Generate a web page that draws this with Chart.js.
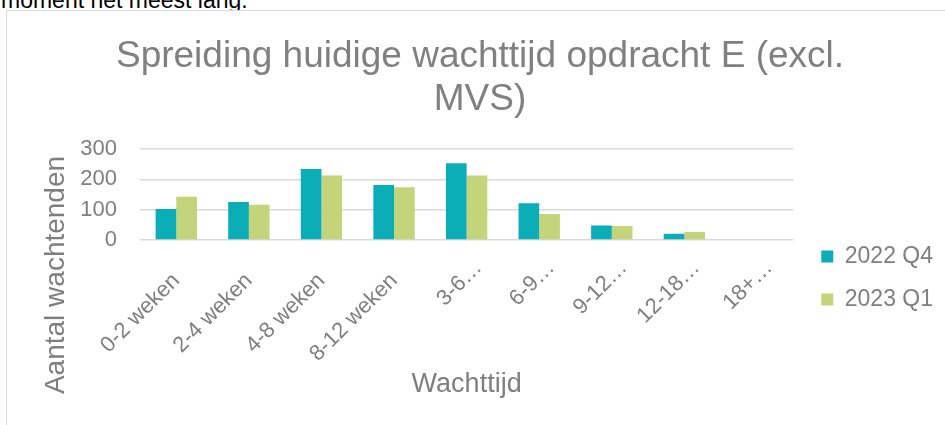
<!DOCTYPE html>
<html>
<head>
<meta charset="utf-8">
<script src="https://cdn.jsdelivr.net/npm/chart.js@4.4.1/dist/chart.umd.min.js"></script>
<style>
  html, body { margin: 0; padding: 0; background: #ffffff; overflow: hidden; }
  body { width: 945px; height: 425px; position: relative; }
  #toptext { position: absolute; left: 1px; top: -11px; font: 23px/23px "Liberation Sans", Arial, sans-serif; color: #000; white-space: nowrap; }
  #frame { position: absolute; left: 6px; top: 10px; width: 945px; height: 420px; border-top: 1px solid #d9d9d9; border-left: 1px solid #d9d9d9; box-sizing: border-box; background: #fff; }
  #c { position: absolute; left: 7px; top: 11px; }
</style>
</head>
<body>
<div id="toptext">moment het meest lang.</div>
<div id="frame"></div>
<canvas id="c" width="938" height="414"></canvas>
<script>
const categories = ["0-2 weken", "2-4 weken", "4-8 weken", "8-12 weken", "3-6 maanden", "6-9 maanden", "9-12 maanden", "12-18 maanden", "18+ maanden"];
const tickLabels = ["0-2 weken", "2-4 weken", "4-8 weken", "8-12 weken", "3-6\u2026", "6-9\u2026", "9-12\u2026", "12-18\u2026", "18+\u2026"];
const series2022Q4 = [102, 125, 234, 181, 253, 121, 48, 21, 0];
const series2023Q1 = [143, 116, 213, 174, 213, 86, 46, 26, 0];
const seriesNames = ["2022 Q4", "2023 Q1"];
const yTicks = [0, 100, 200, 300];

const GRAY = '#7f7f7f';
Chart.defaults.font.family = "'Liberation Sans', Arial, sans-serif";
Chart.defaults.color = GRAY;

const yTitlePlugin = {
  id: 'yTitle',
  afterDraw(chart) {
    const ctx = chart.ctx;
    const a = chart.chartArea;
    ctx.save();
    ctx.font = "28px 'Liberation Sans', Arial, sans-serif";
    ctx.fillStyle = GRAY;
    ctx.textAlign = 'center';
    ctx.textBaseline = 'middle';
    ctx.translate(a.left - 84, a.bottom + 35);
    ctx.rotate(-Math.PI / 2);
    ctx.fillText('Aantal wachtenden', 0, 0);
    ctx.restore();
  }
};

const layoutTweakPlugin = {
  id: 'layoutTweak',
  afterLayout(chart) {
    const lg = chart.legend;
    if (lg) {
      lg.left += 8; lg.right += 8;
      lg.top += 60; lg.bottom += 60;
    }
  },
  beforeDraw(chart) {
    // truncated labels sit a bit further up-right, like the original
    const xs = chart.scales.x;
    const items = xs.getLabelItems();
    items.forEach((it, i) => {
      if (tickLabels[i].endsWith('\u2026') && !it._shifted) {
        it.options.translation = [it.options.translation[0] + 12, it.options.translation[1] - 13];
        it._shifted = true;
      }
    });
  }
};

new Chart(document.getElementById('c'), {
  type: 'bar',
  data: {
    labels: categories,
    datasets: [
      { label: seriesNames[0], data: series2022Q4, backgroundColor: '#0BAEB6' },
      { label: seriesNames[1], data: series2023Q1, backgroundColor: '#C4D47A' }
    ]
  },
  options: {
    responsive: false,
    animation: false,
    devicePixelRatio: 1,
    layout: { padding: { left: 18, right: 10, top: 0, bottom: 0 } },
    datasets: { bar: { categoryPercentage: 0.57, barPercentage: 1.0 } },
    plugins: {
      tooltip: { enabled: false },
      title: {
        display: true,
        text: ["Spreiding huidige wachttijd opdracht E (excl.", "MVS)"],
        color: '#808080',
        font: { size: 37, weight: 'normal', lineHeight: 1.16 },
        padding: { top: 24.5, bottom: 27.7 }
      },
      legend: {
        position: 'right',
        labels: {
          boxWidth: 12, boxHeight: 12, padding: 20,
          color: GRAY,
          font: { size: 23 }
        }
      }
    },
    scales: {
      x: {
        grid: { display: false, drawTicks: false },
        border: { display: false },
        ticks: {
          autoSkip: false, minRotation: 45, maxRotation: 45, padding: 28,
          color: GRAY, font: { size: 22 },
          callback: (v, i) => tickLabels[i]
        },
        title: {
          display: true, text: 'Wachttijd', color: GRAY,
          font: { size: 27 }, padding: { top: 4, bottom: 23.8 }
        },
        afterFit(scale) { scale.height = 185; }
      },
      y: {
        min: 0, max: 300,
        afterBuildTicks(scale) { scale.ticks = yTicks.map(v => ({ value: v })); },
        grid: { color: '#d9d9d9', lineWidth: 1.5, drawTicks: false },
        border: { display: false },
        ticks: { padding: 23, color: GRAY, font: { size: 22 } },
        afterFit(scale) { scale.width = 115; }
      }
    }
  },
  plugins: [yTitlePlugin, layoutTweakPlugin]
});
</script>
</body>
</html>
